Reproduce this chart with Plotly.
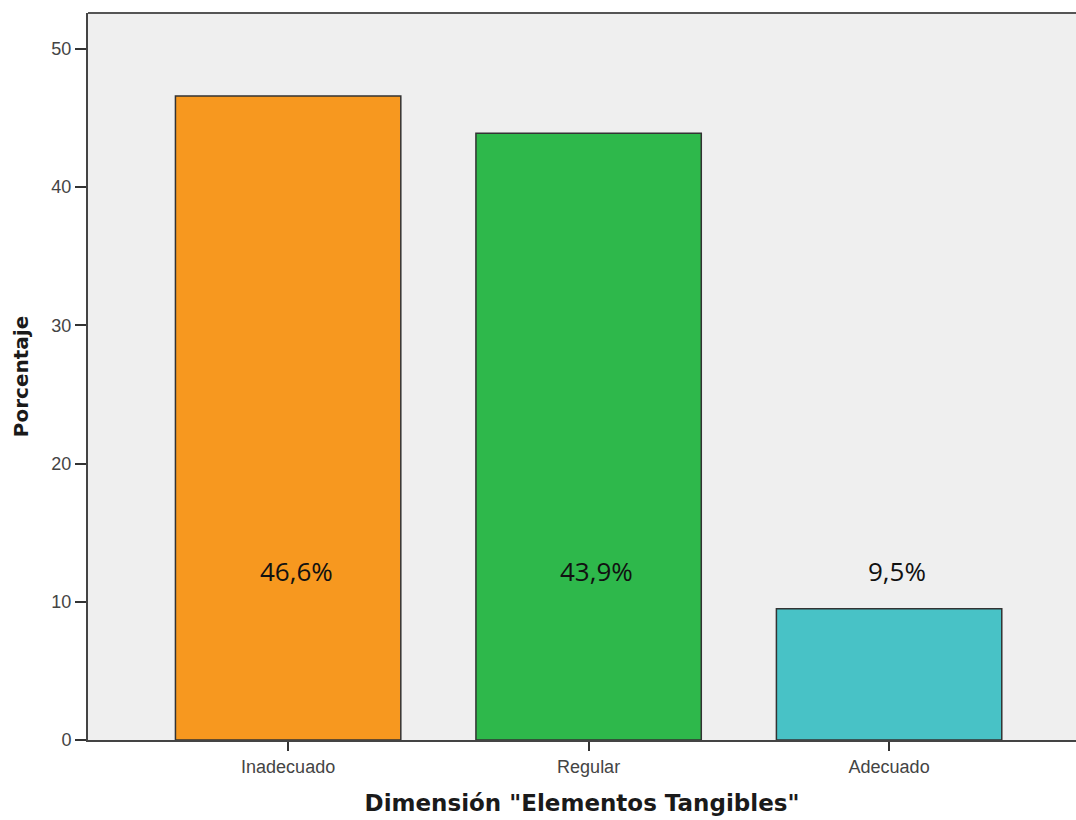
import plotly.graph_objects as go

categories = ["Inadecuado", "Regular", "Adecuado"]
percent = [46.6, 43.9, 9.5]
labels = ["46,6%", "43,9%", "9,5%"]
colors = ["#F7981F", "#2EB84B", "#48C2C6"]
y_ticks = [0, 10, 20, 30, 40, 50]

x = list(range(len(categories)))

fig = go.Figure()
fig.add_trace(go.Bar(
    x=x, y=percent, width=0.75,
    marker=dict(color=colors, line=dict(color="#333333", width=1.5)),
    hoverinfo="skip",
))

for xi, lab in zip(x, labels):
    fig.add_annotation(x=xi + 0.027, y=12.2, text=lab, showarrow=False,
                       font=dict(family="Open Sans", size=26, color="#111111"),
                       xanchor="center", yanchor="middle")

fig.add_shape(type="line", xref="paper", yref="paper", x0=0, x1=1, y0=1, y1=1,
              line=dict(color="#555555", width=2))

fig.update_layout(
    width=1076, height=820,
    margin=dict(l=88, r=0, t=13, b=80),
    paper_bgcolor="white", plot_bgcolor="#EFEFEF",
    showlegend=False,
    bargap=0.25,
)
fig.update_xaxes(
    range=[-0.666, 2.622],
    tickmode="array", tickvals=x, ticktext=categories,
    ticks="outside", ticklen=9, tickwidth=2, tickcolor="#333333",
    showline=True, linecolor="#444444", linewidth=2,
    showgrid=False, zeroline=False,
    tickfont=dict(family="Liberation Sans", size=18, color="#444444"),
    title=dict(text='Dimensión "Elementos Tangibles"',
               font=dict(family="DejaVu Sans", size=23, color="#1a1a1a", weight="bold"),
               standoff=19),
)
fig.update_yaxes(
    range=[0, 52.6],
    tickmode="array", tickvals=y_ticks,
    ticks="outside", ticklen=11, tickwidth=2, tickcolor="#333333",
    showline=True, linecolor="#444444", linewidth=2,
    showgrid=False, zeroline=False,
    tickfont=dict(family="Liberation Sans", size=18, color="#444444"),
    title=dict(text="Porcentaje",
               font=dict(family="DejaVu Sans", size=20, color="#1a1a1a", weight="bold"),
               standoff=17),
)

fig.write_html("out.html")
